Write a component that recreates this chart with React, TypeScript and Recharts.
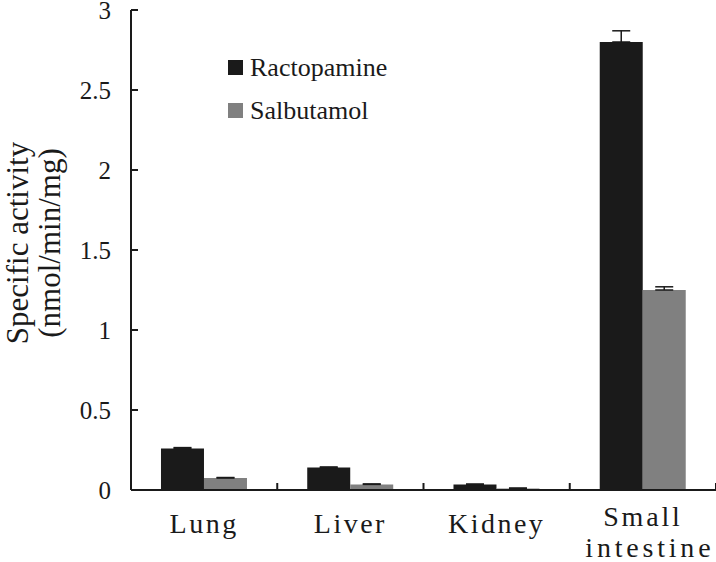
import React from 'react';
import { BarChart, Bar, XAxis, YAxis, ErrorBar } from 'recharts';

const categories = ['Lung', 'Liver', 'Kidney', 'Small intestine'];
const ractopamine = [0.26, 0.14, 0.035, 2.8];
const ractopamineErr = [0.005, 0.004, 0.002, 0.07];
const salbutamol = [0.075, 0.035, 0.01, 1.25];
const salbutamolErr = [0.003, 0.003, 0.002, 0.02];
const yTicks = [0, 0.5, 1, 1.5, 2, 2.5, 3];
const seriesNames = ['Ractopamine', 'Salbutamol'];

const WIDTH = 716;
const HEIGHT = 562;
const Y_AXIS_W = 131;
const RIGHT_M = 0;
const BAND = (WIDTH - Y_AXIS_W - RIGHT_M) / categories.length;
const FONT = '"Times New Roman", "Liberation Serif", Times, serif';
const INK = '#1a1a1a';
const GREY = '#808080';
const COLORS = [INK, GREY];

const data = categories.map((c, i) => ({
  name: c,
  ract: ractopamine[i],
  ractErr: [0, ractopamineErr[i]],
  salb: salbutamol[i],
  salbErr: [0, salbutamolErr[i]],
}));

const XTick = (props: any) => {
  const { x, y, payload } = props;
  const lines = String(payload.value).split(' ');
  const bx = x + BAND / 2;
  return (
    <g>
      <line x1={bx} x2={bx} y1={y} y2={y - 7} stroke={INK} strokeWidth={2} />
      {lines.length === 1 ? (
        <text x={x} y={y + 43} textAnchor="middle" fontFamily={FONT} fontSize={28} letterSpacing={2.5} fill={INK}>
          {lines[0]}
        </text>
      ) : (
        <text textAnchor="middle" fontFamily={FONT} fontSize={28} fill={INK}>
          <tspan x={x} y={y + 36} letterSpacing={2.8}>{lines[0]}</tspan>
          <tspan x={x + 7} y={y + 67} letterSpacing={3.8}>{lines[1]}</tspan>
        </text>
      )}
    </g>
  );
};

const YTick = (props: any) => {
  const { x, y, payload } = props;
  return (
    <g>
      <line x1={x} x2={x + 7} y1={y} y2={y} stroke={INK} strokeWidth={2} />
      <text x={x - 20} y={y} dy="0.35em" textAnchor="end" fontFamily={FONT} fontSize={25} fill={INK}>
        {String(payload.value)}
      </text>
    </g>
  );
};

const YLabel = () => {
  const cy = 243;
  return (
    <g>
      <text
        x={17}
        y={cy}
        transform={`rotate(-90, 17, ${cy})`}
        textAnchor="middle"
        dominantBaseline="central"
        fontFamily={FONT}
        fontSize={31}
        fill={INK}
      >
        Specific activity
      </text>
      <text
        x={49}
        y={cy}
        transform={`rotate(-90, 49, ${cy})`}
        textAnchor="middle"
        dominantBaseline="central"
        fontFamily={FONT}
        fontSize={31}
        fill={INK}
      >
        (nmol/min/mg)
      </text>
    </g>
  );
};

const LegendBox = () => (
  <div
    style={{
      position: 'absolute',
      left: 228,
      top: 46,
      fontFamily: FONT,
      fontSize: 26,
      color: INK,
      lineHeight: 1,
    }}
  >
    {seriesNames.map((label, i) => (
      <div key={label} style={{ display: 'flex', alignItems: 'center', height: 43 }}>
        <div style={{ width: 15, height: 15, background: COLORS[i], marginRight: 7 }} />
        <span>{label}</span>
      </div>
    ))}
  </div>
);

export default function App() {
  return (
    <div style={{ position: 'absolute', left: 0, top: 0, width: WIDTH, height: HEIGHT, background: '#fff' }}>
      <BarChart
        width={WIDTH}
        height={HEIGHT}
        data={data}
        margin={{ top: 10, right: RIGHT_M, left: 0, bottom: 0 }}
        barCategoryGap="20.5%"
        barGap={0}
      >
        <XAxis
          dataKey="name"
          height={72}
          interval={0}
          tickSize={0}
          tickMargin={0}
          tickLine={false}
          axisLine={{ stroke: INK, strokeWidth: 2 }}
          tick={<XTick />}
        />
        <YAxis
          width={Y_AXIS_W}
          domain={[0, 3]}
          ticks={yTicks}
          interval={0}
          tickSize={0}
          tickMargin={0}
          tickLine={false}
          axisLine={{ stroke: INK, strokeWidth: 2 }}
          tick={<YTick />}
          label={{ content: <YLabel /> }}
        />
        <Bar dataKey="ract" name={seriesNames[0]} fill={COLORS[0]} isAnimationActive={false}>
          <ErrorBar dataKey="ractErr" width={9} stroke={INK} strokeWidth={1.5} direction="y" />
        </Bar>
        <Bar dataKey="salb" name={seriesNames[1]} fill={COLORS[1]} isAnimationActive={false}>
          <ErrorBar dataKey="salbErr" width={9} stroke={INK} strokeWidth={1.5} direction="y" />
        </Bar>
      </BarChart>
      <LegendBox />
    </div>
  );
}
